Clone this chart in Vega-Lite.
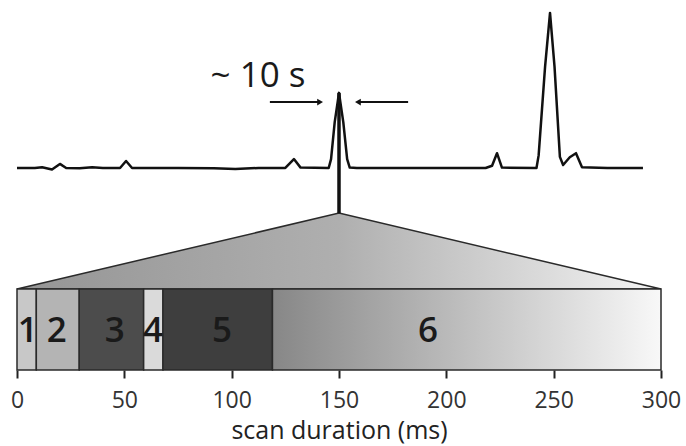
{
  "$schema": "https://vega.github.io/schema/vega-lite/v6.json",
  "width": 644,
  "height": 370,
  "autosize": {"type": "none"},
  "padding": {"left": 17, "top": 0, "right": 25, "bottom": 76},
  "background": "#ffffff",
  "config": {"view": {"stroke": null}, "font": "Open Sans"},
  "datasets": {
    "segments": [
      {"seg": "1", "start": 0, "end": 9, "labelPos": 5},
      {"seg": "2", "start": 9, "end": 29, "labelPos": 18.5},
      {"seg": "3", "start": 29, "end": 59, "labelPos": 45.5},
      {"seg": "4", "start": 59, "end": 68, "labelPos": 63.4},
      {"seg": "5", "start": 68, "end": 119, "labelPos": 95.5},
      {"seg": "6", "start": 119, "end": 300, "labelPos": 191.5}
    ],
    "triangle": [
      {"ms": 0, "h": 21.9},
      {"ms": 150, "h": 42.4},
      {"ms": 300, "h": 21.9}
    ],
    "chrom": [
      {"ms": 0, "v": 54.6}, {"ms": 8.3, "v": 54.6}, {"ms": 11.7, "v": 54.8}, {"ms": 16.3, "v": 54.2},
      {"ms": 20, "v": 55.7}, {"ms": 22.9, "v": 54.6}, {"ms": 29.2, "v": 54.5}, {"ms": 35, "v": 54.8},
      {"ms": 40, "v": 54.6}, {"ms": 48, "v": 54.6}, {"ms": 50.8, "v": 56.5}, {"ms": 53.6, "v": 54.6},
      {"ms": 75, "v": 54.6}, {"ms": 91.7, "v": 54.5}, {"ms": 101.7, "v": 54.3}, {"ms": 112.5, "v": 54.6},
      {"ms": 125, "v": 54.6}, {"ms": 129, "v": 57.0}, {"ms": 132.1, "v": 54.7}, {"ms": 145.2, "v": 54.6},
      {"ms": 146.3, "v": 57.0}, {"ms": 148, "v": 67.0}, {"ms": 150, "v": 74.9}, {"ms": 152, "v": 67.0},
      {"ms": 153.8, "v": 57.0}, {"ms": 155, "v": 54.7}, {"ms": 158.3, "v": 54.6}, {"ms": 191.7, "v": 54.6},
      {"ms": 218.3, "v": 54.6}, {"ms": 221.3, "v": 55.2}, {"ms": 223.6, "v": 58.6}, {"ms": 225.9, "v": 54.7},
      {"ms": 242, "v": 54.6}, {"ms": 243, "v": 58.0}, {"ms": 246, "v": 82.0}, {"ms": 248.3, "v": 96.5},
      {"ms": 250.4, "v": 82.0}, {"ms": 252.9, "v": 57.6}, {"ms": 254.4, "v": 55.4},
      {"ms": 257.5, "v": 57.5}, {"ms": 260.4, "v": 58.6}, {"ms": 263.2, "v": 54.8}, {"ms": 275, "v": 54.6},
      {"ms": 291.6, "v": 54.6}
    ],
    "arrows": [
      {"from": 117.8, "to": 141.2, "dir": "right"},
      {"from": 182.2, "to": 158.8, "dir": "left"}
    ],
    "label": [
      {"ms": 112.3, "v": 76.5, "text": "~ 10 s"}
    ]
  },
  "layer": [
    {
      "data": {"name": "triangle"},
      "mark": {
        "type": "area",
        "stroke": "#2a2a2a",
        "strokeWidth": 1.5,
        "fill": {
          "gradient": "linear", "x1": 0, "x2": 1, "y1": 0, "y2": 0,
          "stops": [
            {"offset": 0, "color": "#959595"},
            {"offset": 0.5, "color": "#afafaf"},
            {"offset": 1, "color": "#f4f4f4"}
          ]
        }
      },
      "encoding": {
        "x": {"field": "ms", "type": "quantitative",
          "scale": {"domain": [0, 300], "nice": false, "zero": false},
          "axis": {
            "values": [0, 50, 100, 150, 200, 250, 300],
            "title": "scan duration (ms)",
            "titleFont": "Open Sans", "titleFontSize": 25, "titleFontWeight": "normal", "titleColor": "#222222",
            "titlePadding": 6,
            "labelFont": "Open Sans", "labelFontSize": 23, "labelColor": "#333333", "labelPadding": 11,
            "tickSize": 8, "tickWidth": 2, "tickColor": "#222222",
            "domain": false, "grid": false, "labelFlush": false, "labelOverlap": false
          }
        },
        "y": {"field": "h", "type": "quantitative", "scale": {"domain": [0, 100], "nice": false, "zero": false}, "axis": null},
        "y2": {"datum": 21.9}
      }
    },
    {
      "data": {"name": "segments"},
      "transform": [{"filter": "datum.seg != '6'"}],
      "mark": {"type": "bar", "stroke": "#2a2a2a", "strokeWidth": 1.5},
      "encoding": {
        "x": {"field": "start", "type": "quantitative"},
        "x2": {"field": "end"},
        "y": {"datum": 0},
        "y2": {"datum": 21.9},
        "fill": {
          "field": "seg", "type": "nominal", "legend": null,
          "scale": {"domain": ["1", "2", "3", "4", "5"], "range": ["#c8c8c8", "#b4b4b4", "#4c4c4c", "#dadada", "#3e3e3e"]}
        }
      }
    },
    {
      "data": {"name": "segments"},
      "transform": [{"filter": "datum.seg == '6'"}],
      "mark": {
        "type": "bar", "stroke": "#2a2a2a", "strokeWidth": 1.5,
        "fill": {
          "gradient": "linear", "x1": 0, "x2": 1, "y1": 0, "y2": 0,
          "stops": [
            {"offset": 0, "color": "#878787"},
            {"offset": 1, "color": "#f8f8f8"}
          ]
        }
      },
      "encoding": {
        "x": {"field": "start", "type": "quantitative"},
        "x2": {"field": "end"},
        "y": {"datum": 0},
        "y2": {"datum": 21.9}
      }
    },
    {
      "data": {"name": "segments"},
      "mark": {"type": "text", "fontSize": 35, "fontWeight": 600, "color": "#1a1a1a", "baseline": "middle", "align": "center"},
      "encoding": {
        "x": {"field": "labelPos", "type": "quantitative"},
        "y": {"datum": 10.6},
        "text": {"field": "seg"}
      }
    },
    {
      "data": {"values": [{"ms": 150}]},
      "mark": {"type": "rule", "color": "#111111", "strokeWidth": 3.5},
      "encoding": {
        "x": {"field": "ms", "type": "quantitative"},
        "y": {"datum": 42.4},
        "y2": {"datum": 74.9}
      }
    },
    {
      "data": {"name": "chrom"},
      "mark": {"type": "line", "color": "#111111", "strokeWidth": 2.5, "strokeJoin": "round"},
      "encoding": {
        "x": {"field": "ms", "type": "quantitative"},
        "y": {"field": "v", "type": "quantitative"}
      }
    },
    {
      "data": {"name": "arrows"},
      "mark": {"type": "rule", "color": "#111111", "strokeWidth": 2},
      "encoding": {
        "x": {"field": "from", "type": "quantitative"},
        "x2": {"field": "to"},
        "y": {"datum": 72.4}
      }
    },
    {
      "data": {"name": "arrows"},
      "mark": {"type": "point", "filled": true, "opacity": 1, "color": "#111111", "size": 45},
      "encoding": {
        "x": {"field": "to", "type": "quantitative"},
        "y": {"datum": 72.4},
        "shape": {"field": "dir", "type": "nominal", "legend": null,
          "scale": {"domain": ["right", "left"], "range": ["triangle-right", "triangle-left"]}}
      }
    },
    {
      "data": {"name": "label"},
      "mark": {"type": "text", "fontSize": 35, "color": "#1a1a1a", "baseline": "alphabetic", "align": "center"},
      "encoding": {
        "x": {"field": "ms", "type": "quantitative"},
        "y": {"field": "v", "type": "quantitative"},
        "text": {"field": "text"}
      }
    }
  ]
}
